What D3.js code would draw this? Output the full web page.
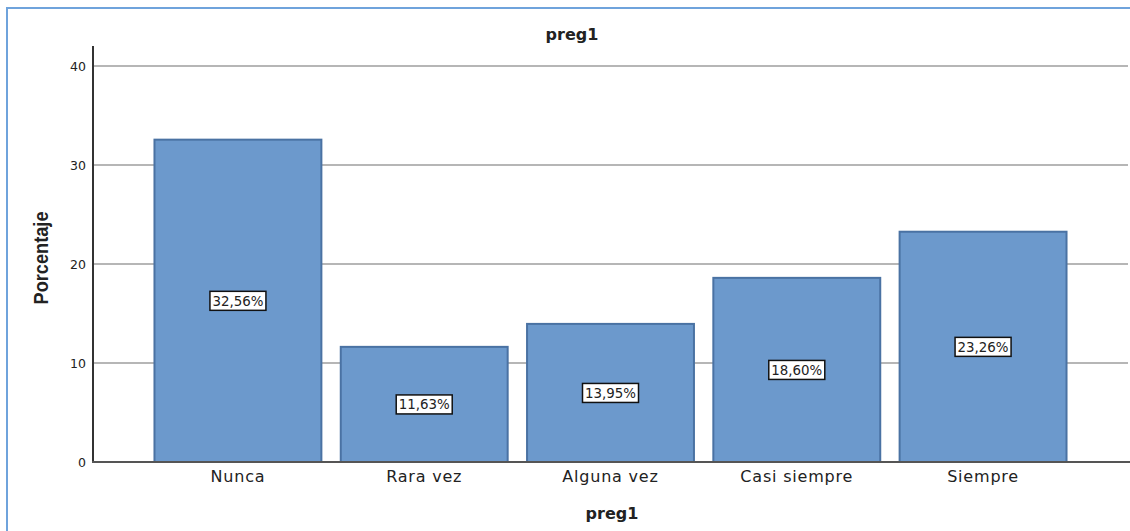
<!DOCTYPE html>
<html>
<head>
<meta charset="utf-8">
<script src="https://cdn.jsdelivr.net/npm/d3@7"></script>
<style>
  body { margin: 0; background: #fff; }
  text { font-family: "DejaVu Sans", sans-serif; fill: #222; }
</style>
</head>
<body>
<svg id="chart" width="1130" height="531"></svg>
<script>
// datos
var categorias = ["Nunca", "Rara vez", "Alguna vez", "Casi siempre", "Siempre"];
var porcentajes = [32.56, 11.63, 13.95, 18.60, 23.26];
var etiquetas = ["32,56%", "11,63%", "13,95%", "18,60%", "23,26%"];
var ticksY = [0, 10, 20, 30, 40];

var svg = d3.select("#chart");

// marco azul
svg.append("rect")
  .attr("x", 7).attr("y", 8)
  .attr("width", 1140).attr("height", 540)
  .attr("fill", "none")
  .attr("stroke", "#6fa3dc")
  .attr("stroke-width", 2);

var x = d3.scaleBand()
  .domain(categorias)
  .range([93, 1128])
  .paddingInner(0.104)
  .paddingOuter(0.33);

var y = d3.scaleLinear()
  .domain([0, 40])
  .range([462, 66]);

// lineas de cuadricula
svg.append("g")
  .selectAll("line")
  .data(ticksY.filter(function (d) { return d > 0; }))
  .enter()
  .append("line")
  .attr("x1", 93).attr("x2", 1128)
  .attr("y1", function (d) { return y(d); })
  .attr("y2", function (d) { return y(d); })
  .attr("stroke", "#9e9e9e")
  .attr("stroke-width", 1.5);

// barras
svg.append("g")
  .selectAll("rect")
  .data(porcentajes)
  .enter()
  .append("rect")
  .attr("x", function (d, i) { return x(categorias[i]); })
  .attr("y", function (d) { return y(d); })
  .attr("width", x.bandwidth())
  .attr("height", function (d) { return y(0) - y(d); })
  .attr("fill", "#6c99cc")
  .attr("stroke", "#4a72a3")
  .attr("stroke-width", 2);

// eje y
var ejeY = svg.append("g")
  .attr("transform", "translate(93,0)")
  .call(d3.axisLeft(y).tickValues(ticksY).tickSize(0).tickPadding(7));
ejeY.select(".domain").remove();
ejeY.selectAll("text")
  .style("font-family", "DejaVu Sans, sans-serif")
  .style("font-size", "12.5px")
  .style("fill", "#222");

svg.append("line")
  .attr("x1", 93).attr("x2", 93)
  .attr("y1", 46).attr("y2", 463)
  .attr("stroke", "#333").attr("stroke-width", 2);
svg.append("line")
  .attr("x1", 92).attr("x2", 1130)
  .attr("y1", 462).attr("y2", 462)
  .attr("stroke", "#555").attr("stroke-width", 2);

// eje x (etiquetas)
var ejeX = svg.append("g")
  .attr("transform", "translate(0,462)")
  .call(d3.axisBottom(x).tickSize(0).tickPadding(9));
ejeX.select(".domain").remove();
ejeX.selectAll("text")
  .style("font-family", "DejaVu Sans, sans-serif")
  .style("font-size", "16px")
  .style("letter-spacing", "0.8px")
  .style("fill", "#222");

// etiquetas de valor
var lab = svg.append("g")
  .selectAll("g")
  .data(porcentajes)
  .enter()
  .append("g")
  .attr("transform", function (d, i) {
    return "translate(" + (x(categorias[i]) + x.bandwidth() / 2) + "," + y(d / 2) + ")";
  });
lab.append("rect")
  .attr("x", -28).attr("y", -9.5)
  .attr("width", 56).attr("height", 19)
  .attr("fill", "#fff")
  .attr("stroke", "#111")
  .attr("stroke-width", 1.5);
lab.append("text")
  .attr("text-anchor", "middle")
  .attr("dy", "0.36em")
  .attr("textLength", 51)
  .attr("lengthAdjust", "spacingAndGlyphs")
  .style("font-size", "14px")
  .text(function (d, i) { return etiquetas[i]; });

// titulos
svg.append("text")
  .attr("x", 572).attr("y", 40)
  .attr("text-anchor", "middle")
  .style("font-size", "16px")
  .style("font-weight", "bold")
  .text("preg1");

svg.append("text")
  .attr("x", 612).attr("y", 519)
  .attr("text-anchor", "middle")
  .style("font-size", "16px")
  .style("font-weight", "bold")
  .text("preg1");

svg.append("text")
  .attr("transform", "translate(48,258) rotate(-90)")
  .attr("text-anchor", "middle")
  .attr("textLength", 93)
  .attr("lengthAdjust", "spacingAndGlyphs")
  .style("font-family", "Liberation Sans Narrow, Liberation Sans, sans-serif")
  .style("font-size", "20px")
  .style("font-weight", "bold")
  .text("Porcentaje");
</script>
</body>
</html>
